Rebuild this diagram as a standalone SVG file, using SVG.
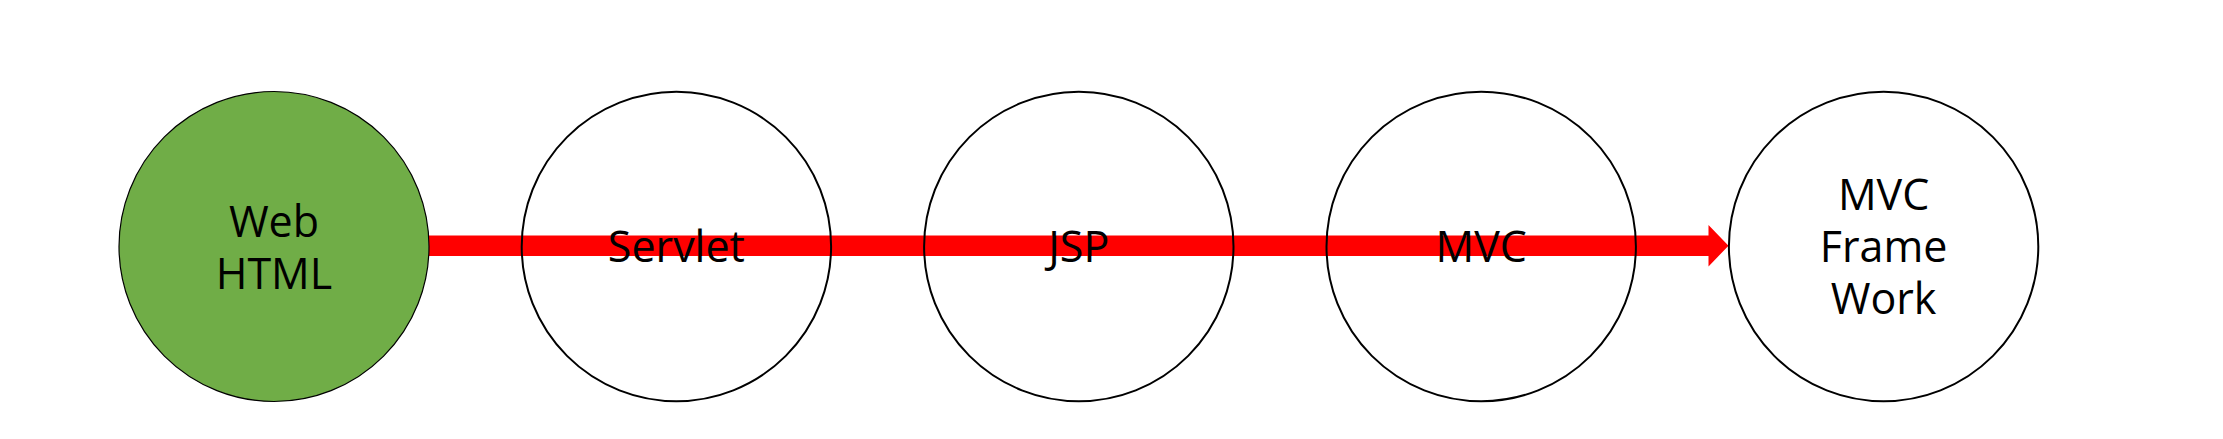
<svg xmlns="http://www.w3.org/2000/svg" width="2223" height="439" viewBox="0 0 2223 439">
<style>
.c{fill:none;stroke:#000;stroke-width:2}
.g{fill:#70AD47;stroke:#000;stroke-width:1.2}
text{font-family:"Open Sans","Noto Sans","Liberation Sans",sans-serif;font-size:43px;fill:#000;text-anchor:middle}
</style>
<rect width="2223" height="439" fill="#fff"/>
<g id="connectors">
<polygon points="429,235.5 1708.5,235.5 1708.5,225 1728.5,245.7 1708.5,266.5 1708.5,256 429,256" fill="#f00"/>
</g>
<g id="node-web">
<circle class="g" cx="274" cy="246.5" r="155"/>
<text x="274" y="236.5">Web</text>
<text x="274" y="289">HTML</text>
</g>
<g id="node-servlet">
<circle class="c" cx="676.4" cy="246.5" r="154.7"/>
<text x="676.4" y="262.3">Servlet</text>
</g>
<g id="node-jsp">
<circle class="c" cx="1078.8" cy="246.5" r="154.7"/>
<text x="1078.8" y="262.3">JSP</text>
</g>
<g id="node-mvc">
<circle class="c" cx="1481.2" cy="246.5" r="154.7"/>
<text x="1481.2" y="262.3">MVC</text>
</g>
<g id="node-framework">
<circle class="c" cx="1883.6" cy="246.5" r="154.7"/>
<text x="1883.6" y="210">MVC</text>
<text x="1883.6" y="261.7">Frame</text>
<text x="1883.6" y="314.3">Work</text>
</g>
</svg>
